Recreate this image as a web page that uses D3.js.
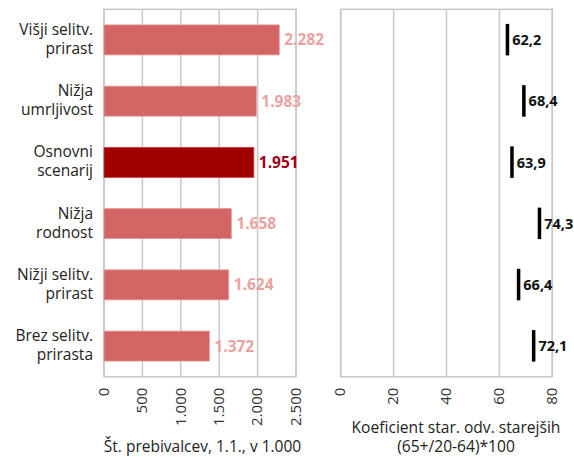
<!DOCTYPE html>
<html>
<head>
<meta charset="utf-8">
<script src="https://cdn.jsdelivr.net/npm/d3@7"></script>
<style>
  html, body { margin: 0; padding: 0; background: #fff; }
  svg { display: block; font-family: "Open Sans", "Noto Sans", sans-serif; }
</style>
</head>
<body>
<svg id="chart" width="574" height="457"></svg>
<script>
// Scenarios (top to bottom)
const scenarios = [
  ["Višji selitv.", "prirast"],
  ["Nižja", "umrljivost"],
  ["Osnovni", "scenarij"],
  ["Nižja", "rodnost"],
  ["Nižji selitv.", "prirast"],
  ["Brez selitv.", "prirasta"]
];
// Population on 1 January, in thousands
const population = [2282, 1983, 1951, 1658, 1624, 1372];
// Old-age dependency ratio (65+/20-64)*100
const dependency = [62.2, 68.4, 63.9, 74.3, 66.4, 72.1];
const baseIndex = 2;

const popTicks = [0, 500, 1000, 1500, 2000, 2500];
const depTicks = [0, 20, 40, 60, 80];
const popTitle = ["Št. prebivalcev, 1.1., v 1.000"];
const depTitle = ["Koeficient star. odv. starejših", "(65+/20-64)*100"];

const fmtPop = v => d3.format(",")(v).replace(/,/g, ".");
const fmtDep = v => d3.format(".1f")(v).replace(".", ",");

const svg = d3.select("#chart");
const plotTop = 9.3, plotBottom = 376.7;
const gridColor = "#c8c8c8";

const y = d3.scaleBand()
  .domain(d3.range(scenarios.length))
  .range([plotTop, plotBottom])
  .paddingInner(0.51)
  .paddingOuter(0.255);

function panel(x0, x1, domain, ticks, title, tickFmt, titleSize, titleX) {
  const x = d3.scaleLinear().domain(domain).range([x0, x1]);
  const g = svg.append("g");
  g.selectAll("line.grid").data(ticks).join("line")
    .attr("x1", d => x(d)).attr("x2", d => x(d))
    .attr("y1", plotTop).attr("y2", plotBottom)
    .attr("stroke", gridColor).attr("stroke-width", 1.5);
  g.append("rect")
    .attr("x", x0).attr("y", plotTop)
    .attr("width", x1 - x0).attr("height", plotBottom - plotTop)
    .attr("fill", "none").attr("stroke", gridColor).attr("stroke-width", 1.5);

  const axis = d3.axisBottom(x).tickValues(ticks).tickFormat(tickFmt).tickSize(0).tickPadding(0);
  const ag = g.append("g").attr("transform", `translate(0,${plotBottom})`).call(axis);
  ag.select(".domain").remove();
  ag.selectAll(".tick text")
    .attr("transform", "translate(-1,11) rotate(-90)")
    .attr("x", 0).attr("y", 0).attr("dy", "0.35em")
    .attr("text-anchor", "end")
    .attr("fill", "#333")
    .attr("font-size", 15)
    .attr("font-family", "\"Open Sans\", sans-serif");

  const tt = g.append("text").attr("text-anchor", "middle").attr("fill", "#222").attr("font-size", titleSize);
  title.forEach((t, i) => {
    tt.append("tspan").attr("x", titleX).attr("y", title.length === 1 ? 452 : 432.5 + i * 19).text(t);
  });
  return x;
}

// Left panel: population bars
const xPop = panel(104, 296, [0, 2500], popTicks, popTitle, fmtPop, 15.5, 202.5);
// Right panel: dependency ratio markers
const xDep = panel(340.7, 552.3, [0, 80], depTicks, depTitle, d => d, 15.6, 456);

// Category labels
const lab = svg.append("g").attr("font-size", 15.5).attr("fill", "#222").attr("text-anchor", "end");
scenarios.forEach((lines, i) => {
  const cy = y(i) + y.bandwidth() / 2;
  const t = lab.append("text");
  lines.forEach((l, j) => {
    t.append("tspan").attr("x", 93).attr("y", cy - 5 + j * 19).text(l);
  });
});

// Population bars
svg.append("g").selectAll("rect").data(population).join("rect")
  .attr("x", xPop(0))
  .attr("y", (d, i) => y(i))
  .attr("width", d => xPop(d) - xPop(0))
  .attr("height", y.bandwidth())
  .attr("fill", (d, i) => i === baseIndex ? "#a00000" : "#d46565")
  .attr("stroke", (d, i) => i === baseIndex ? "#c44040" : "#e59a9a")
  .attr("stroke-width", 0.8);

svg.append("g").selectAll("text").data(population).join("text")
  .attr("x", d => xPop(d) + 5)
  .attr("y", (d, i) => y(i) + y.bandwidth() / 2)
  .attr("dy", "0.36em")
  .attr("font-size", 15.5)
  .attr("font-weight", "bold")
  .attr("fill", (d, i) => i === baseIndex ? "#a0001a" : "#eba2a2")
  .text(fmtPop);

// Dependency ratio markers
svg.append("g").selectAll("rect").data(dependency).join("rect")
  .attr("x", d => xDep(d) + 0.5)
  .attr("y", (d, i) => y(i) - 1)
  .attr("width", 3.5)
  .attr("height", y.bandwidth() + 1.5)
  .attr("fill", "#000");

svg.append("g").selectAll("text").data(dependency).join("text")
  .attr("x", d => xDep(d) + 7)
  .attr("y", (d, i) => y(i) + y.bandwidth() / 2)
  .attr("dy", "0.36em")
  .attr("font-size", 14.5)
  .attr("font-weight", "bold")
  .attr("fill", "#111")
  .text(fmtDep);
</script>
</body>
</html>
